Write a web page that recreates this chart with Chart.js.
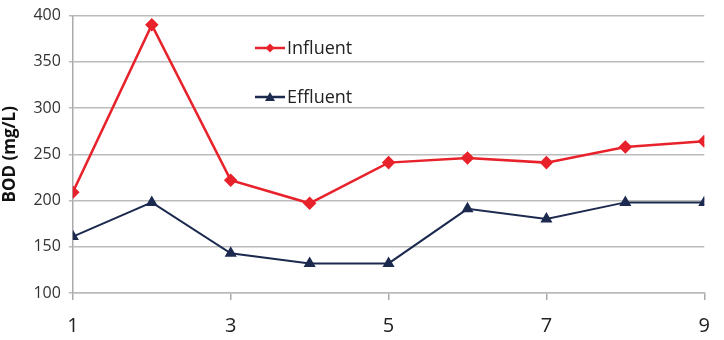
<!DOCTYPE html>
<html><head><meta charset="utf-8">
<script src="https://cdn.jsdelivr.net/npm/chart.js@4.4.1/dist/chart.umd.min.js"></script>
<style>
html,body{margin:0;padding:0;background:#fff;overflow:hidden;width:724px;height:340px;}
#wrap{position:absolute;left:0;top:-2px;width:724px;height:354px;}
</style></head><body>
<div id="wrap"><canvas id="c"></canvas></div>
<script>
const samples = [1,2,3,4,5,6,7,8,9];
const influent = [209,390,222,197,241,246,241,258,264];
const effluent = [161,198,143,132,132,191,180,198,198];
const xTicks = [1,3,5,7,9];
const yTicks = [100,150,200,250,300,350,400];
const seriesNames = ['Influent','Effluent'];
const yTitle = 'BOD (mg/L)';

const colors = ['#e8222b','#1c2a4f'];
const styles = ['rectRot','triangle'];

const legendPlugin = {
  id:'inlegend',
  afterDatasetsDraw(chart){
    const ctx = chart.ctx;
    const x0 = 255, ys=[50,99];
    chart.data.datasets.forEach((ds,i)=>{
      const y = ys[i];
      ctx.save();
      ctx.strokeStyle = ds.borderColor; ctx.lineWidth = 2.5;
      ctx.beginPath(); ctx.moveTo(x0,y); ctx.lineTo(x0+30,y); ctx.stroke();
      ctx.fillStyle = ds.borderColor;
      ctx.beginPath();
      if(ds.pointStyle==='rectRot'){
        const r=4.5; ctx.moveTo(x0+15,y-r);ctx.lineTo(x0+15+r,y);ctx.lineTo(x0+15,y+r);ctx.lineTo(x0+15-r,y);
      } else {
        const r=5; ctx.moveTo(x0+15,y-r);ctx.lineTo(x0+15+r,y+r*0.8);ctx.lineTo(x0+15-r,y+r*0.8);
      }
      ctx.closePath(); ctx.fill();
      ctx.fillStyle='#222'; ctx.font='18px "Open Sans", sans-serif'; ctx.textBaseline='middle'; ctx.textAlign='left';
      ctx.fillText(ds.label, x0+32, y+1);
      ctx.restore();
    });
  }
};

new Chart(document.getElementById('c'),{
  type:'line',
  data:{datasets:[
    {label:seriesNames[0],data:samples.map((s,i)=>({x:s,y:influent[i]})),borderColor:colors[0],backgroundColor:colors[0],pointStyle:styles[0],pointRadius:5,borderWidth:2.5,tension:0},
    {label:seriesNames[1],data:samples.map((s,i)=>({x:s,y:effluent[i]})),borderColor:colors[1],backgroundColor:colors[1],pointStyle:styles[1],pointRadius:5,borderWidth:2,tension:0}
  ]},
  options:{
    responsive:true,maintainAspectRatio:false,animation:false,
    layout:{padding:{left:0,right:19,top:6,bottom:0}},
    plugins:{legend:{display:false},tooltip:{enabled:false}},
    scales:{
      x:{type:'linear',min:1,max:9,
        afterBuildTicks(a){a.ticks=xTicks.map(v=>({value:v}));},
        grid:{drawOnChartArea:false,drawTicks:true,tickLength:7,color:'#aaa',lineWidth:1.5},
        border:{display:true,color:'#bbb',width:1.5},
        ticks:{color:'#222',font:{family:'"Open Sans", sans-serif',size:20},padding:14,maxRotation:0}
      },
      y:{min:100,max:400,
        afterBuildTicks(a){a.ticks=yTicks.map(v=>({value:v}));},
        grid:{color:'#bbb',lineWidth:1.5,tickLength:4},
        border:{display:true,color:'#aaa',width:1.5},
        title:{display:true,text:yTitle,color:'#111',font:{family:'"Open Sans", sans-serif',size:17,weight:'bold'},padding:{top:0,bottom:5}},
        ticks:{color:'#333',font:{family:'"Open Sans", sans-serif',size:16},padding:8}
      }
    }
  },
  plugins:[legendPlugin]
});
</script>
</body></html>
